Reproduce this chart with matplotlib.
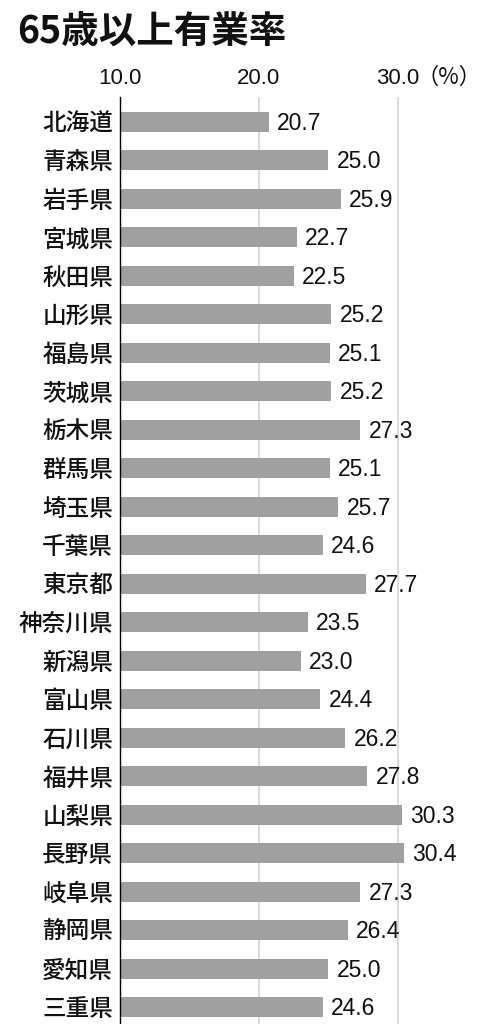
import matplotlib
matplotlib.use("Agg")
import matplotlib.pyplot as plt

plt.rcParams['font.family'] = ['Liberation Sans', 'Noto Sans CJK JP', 'DejaVu Sans']

title = "65歳以上有業率"
prefectures = ["北海道", "青森県", "岩手県", "宮城県", "秋田県", "山形県", "福島県", "茨城県",
               "栃木県", "群馬県", "埼玉県", "千葉県", "東京都", "神奈川県", "新潟県", "富山県",
               "石川県", "福井県", "山梨県", "長野県", "岐阜県", "静岡県", "愛知県", "三重県"]
values = [20.7, 25.0, 25.9, 22.7, 22.5, 25.2, 25.1, 25.2,
          27.3, 25.1, 25.7, 24.6, 27.7, 23.5, 23.0, 24.4,
          26.2, 27.8, 30.3, 30.4, 27.3, 26.4, 25.0, 24.6]
tick_values = [10, 20, 30]
tick_labels = ["10.0", "20.0", "30.0"]
unit_label = "（%）"

W, H = 489, 1024
fig = plt.figure(figsize=(W / 100, H / 100), dpi=100)
ax = fig.add_axes([120 / W, 0, 1 - 120 / W, 1 - 97 / H])

ypos = list(range(len(prefectures)))
ax.barh(ypos, [v - 10 for v in values], left=10, height=0.52, color="#a0a0a0", zorder=2)

ax.set_xlim(10, 10 + (W - 120) / 13.9)
ax.set_ylim(len(prefectures) - 1 + 0.43, -0.64)

for x in tick_values[1:]:
    ax.axvline(x, color="#d4d4d4", lw=1.2, zorder=1)

for s in ["top", "right", "bottom"]:
    ax.spines[s].set_visible(False)
ax.spines["left"].set_color("black")
ax.spines["left"].set_linewidth(1.0)
ax.spines["left"].set_zorder(3)

ax.xaxis.tick_top()
ax.set_xticks(tick_values)
ax.set_xticklabels(tick_labels, fontsize=16, color="#111111")
ax.tick_params(axis="x", length=0, pad=6)

ax.set_yticks(ypos)
ax.set_yticklabels(prefectures, fontsize=17, fontweight="medium", color="#111111",
                   family=['Noto Sans CJK JP', 'DejaVu Sans'])
ax.tick_params(axis="y", length=0, pad=5)

for y, v in zip(ypos, values):
    ax.annotate(f"{v:.1f}", xy=(v, y), xytext=(6, -1), textcoords="offset points",
                ha="left", va="center", fontsize=16.5, color="#111111")

ax.annotate(unit_label, xy=(30, 1), xycoords=("data", "axes fraction"),
            xytext=(13, 6), textcoords="offset points", ha="left", va="bottom",
            fontsize=16, color="#111111", family=['Noto Sans CJK JP', 'DejaVu Sans'],
            annotation_clip=False)

fig.text(17 / W, 1 - 32 / H, title, fontsize=27, fontweight="bold", ha="left", va="center",
         color="#111111", family=['Noto Sans CJK JP', 'DejaVu Sans'])

fig.savefig("out.png", dpi=100, facecolor="white")
